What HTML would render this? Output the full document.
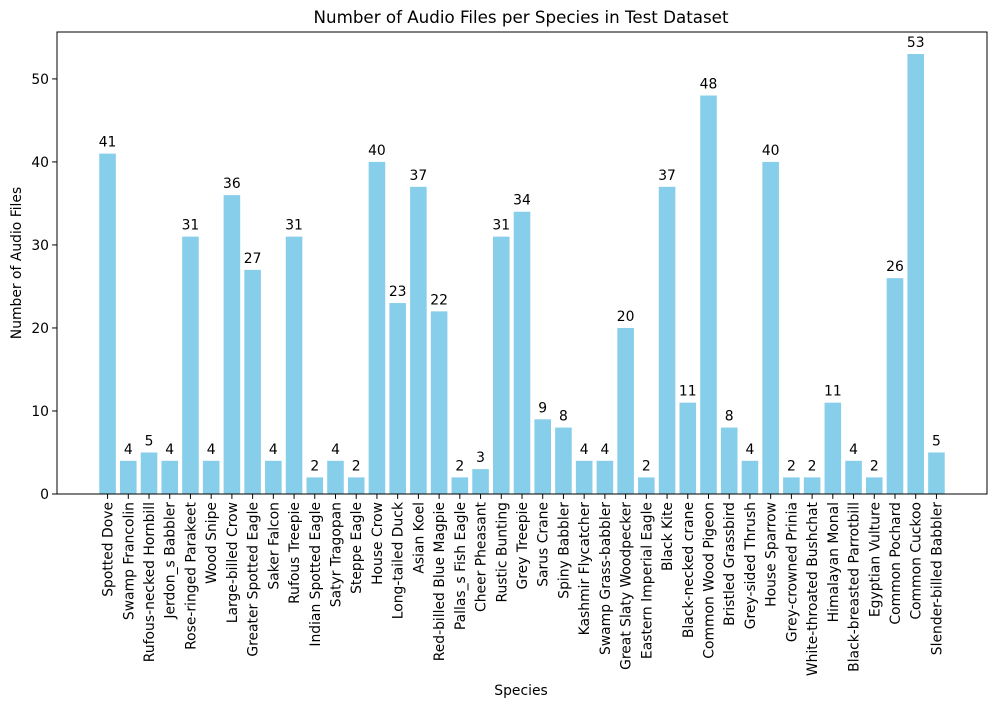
<!DOCTYPE html>
<html><head><meta charset="utf-8"><style>body{margin:0;background:#fff}svg{font-family:"DejaVu Sans","Liberation Sans",sans-serif}</style></head>
<body>
<svg id="chart" width="996" height="707">
<text x="521" y="23" font-size="16.7" text-anchor="middle">Number of Audio Files per Species in Test Dataset</text>
<text x="521" y="695" font-size="13.9" text-anchor="middle">Species</text>
<text x="21" y="263" font-size="13.9" text-anchor="middle" transform="rotate(-90 21 263)">Number of Audio Files</text>
<g id="plot"></g>
</svg>
<script>
const categories=["Spotted Dove","Swamp Francolin","Rufous-necked Hornbill","Jerdon_s Babbler","Rose-ringed Parakeet","Wood Snipe","Large-billed Crow","Greater Spotted Eagle","Saker Falcon","Rufous Treepie","Indian Spotted Eagle","Satyr Tragopan","Steppe Eagle","House Crow","Long-tailed Duck","Asian Koel","Red-billed Blue Magpie","Pallas_s Fish Eagle","Cheer Pheasant","Rustic Bunting","Grey Treepie","Sarus Crane","Spiny Babbler","Kashmir Flycatcher","Swamp Grass-babbler","Great Slaty Woodpecker","Eastern Imperial Eagle","Black Kite","Black-necked crane","Common Wood Pigeon","Bristled Grassbird","Grey-sided Thrush","House Sparrow","Grey-crowned Prinia","White-throated Bushchat","Himalayan Monal","Black-breasted Parrotbill","Egyptian Vulture","Common Pochard","Common Cuckoo","Slender-billed Babbler"];
const values=[41,4,5,4,31,4,36,27,4,31,2,4,2,40,23,37,22,2,3,31,34,9,8,4,4,20,2,37,11,48,8,4,40,2,2,11,4,2,26,53,5];
const yTicks=[0,10,20,30,40,50];
const NS="http://www.w3.org/2000/svg";
const L=57,R=987,T=32,B=494;
const n=categories.length;
const xmin=-0.4-0.05*(n-0.2),xmax=n-1+0.4+0.05*(n-0.2);
const ymax=Math.max(...values)*1.05;
const xs=i=>L+(i-xmin)/(xmax-xmin)*(R-L);
const ys=v=>B-v/ymax*(B-T);
const bw=0.8*(R-L)/(xmax-xmin);
const g=document.getElementById('plot');
function mk(t,a){const e=document.createElementNS(NS,t);for(const k in a)e.setAttribute(k,a[k]);g.appendChild(e);return e;}
values.forEach((v,i)=>{
 const r=mk('rect',{x:xs(i)-bw/2,y:ys(v),width:bw,height:B-ys(v),fill:'#87ceeb'});
 
 
 const t=mk('text',{x:xs(i),y:ys(v)-7,'font-size':13.9,'text-anchor':'middle'});t.textContent=v;
 
 
 const tk=mk('line',{x1:xs(i),x2:xs(i),y1:B,y2:B+4.9,stroke:'#000','stroke-width':1});
 
 
 const lx=xs(i)+5,ly=B+8;
 const lb=mk('text',{x:lx,y:ly,'font-size':13.9,'text-anchor':'end',transform:`rotate(-90 ${lx} ${ly})`});lb.textContent=categories[i];
 
 
});
yTicks.forEach(v=>{
 const tk=mk('line',{x1:L-4.9,x2:L,y1:ys(v),y2:ys(v),stroke:'#000','stroke-width':1});
 
 
 const t=mk('text',{x:L-8,y:ys(v)+5,'font-size':13.9,'text-anchor':'end'});t.textContent=v;
 
 
});
const fr=mk('rect',{x:L,y:T,width:R-L,height:B-T,fill:'none',stroke:'#000','stroke-width':1});


</script>
</body></html>
